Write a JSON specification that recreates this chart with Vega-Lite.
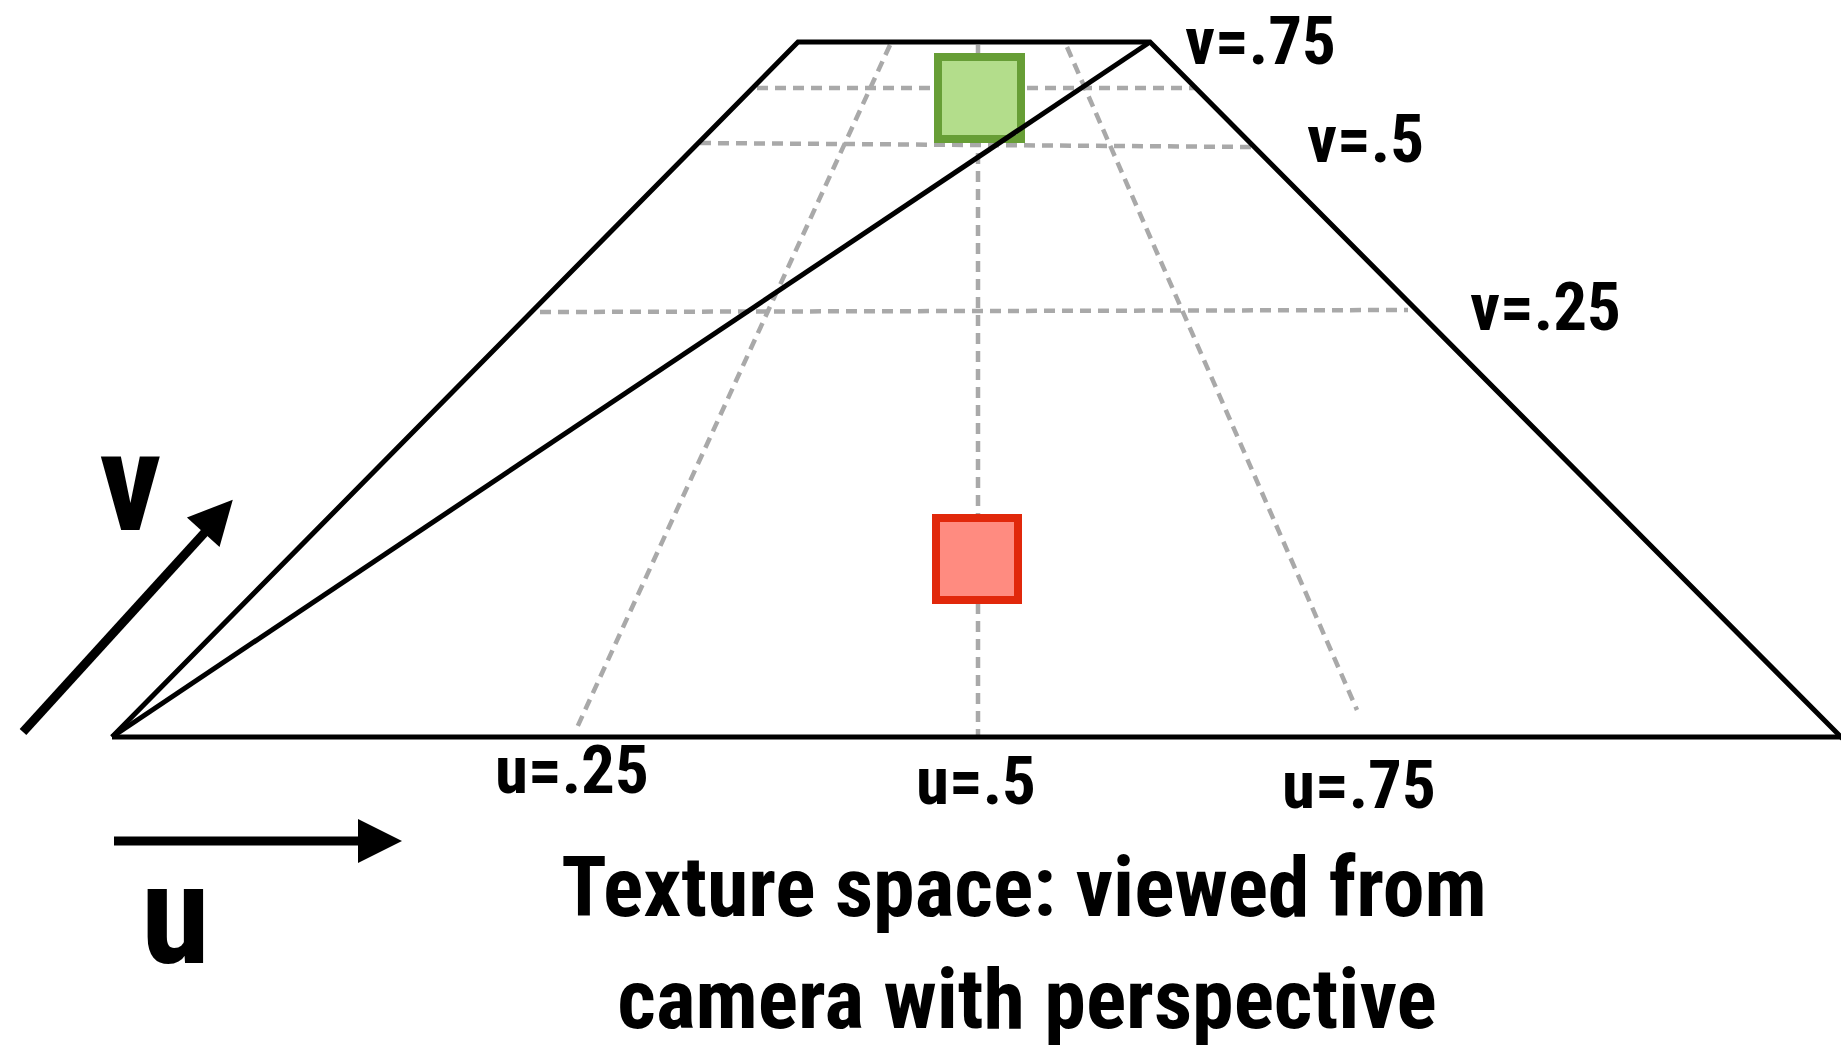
{
  "$schema": "https://vega.github.io/schema/vega-lite/v6.json",
  "width": 1841,
  "height": 1049,
  "autosize": "none",
  "padding": 0,
  "background": "white",
  "config": {"view": {"stroke": null}},
  "datasets": {
    "outline": [
      {"seg": "trap", "i": 0, "x": 112, "y": 737},
      {"seg": "trap", "i": 1, "x": 798, "y": 42},
      {"seg": "trap", "i": 2, "x": 1150, "y": 42},
      {"seg": "trap", "i": 3, "x": 1845, "y": 741},
      {"seg": "bottom", "i": 0, "x": 112, "y": 737},
      {"seg": "bottom", "i": 1, "x": 1845, "y": 737},
      {"seg": "diag", "i": 0, "x": 112, "y": 737},
      {"seg": "diag", "i": 1, "x": 1150, "y": 42}
    ],
    "dashed": [
      {"name": "v=.75", "x": 757, "y": 88, "x2": 1197, "y2": 88},
      {"name": "v=.5", "x": 700, "y": 143, "x2": 1256, "y2": 147},
      {"name": "v=.25", "x": 540, "y": 312, "x2": 1408, "y2": 310},
      {"name": "u=.25", "x": 890, "y": 45, "x2": 575, "y2": 732},
      {"name": "u=.5", "x": 978, "y": 45, "x2": 978, "y2": 737},
      {"name": "u=.75", "x": 1067, "y": 47, "x2": 1357, "y2": 710}
    ],
    "labels": [
      {"text": "v=.75", "x": 1185, "y": 64},
      {"text": "v=.5", "x": 1307, "y": 162},
      {"text": "v=.25", "x": 1470, "y": 330},
      {"text": "u=.25", "x": 495, "y": 793},
      {"text": "u=.5", "x": 916, "y": 804},
      {"text": "u=.75", "x": 1282, "y": 808}
    ],
    "axisletters": [
      {"text": "v", "x": 99, "y": 530},
      {"text": "u", "x": 141, "y": 963}
    ],
    "title": [
      {"text": "Texture space: viewed from", "x": 1024, "y": 916},
      {"text": "camera with perspective", "x": 1027, "y": 1028}
    ]
  },
  "layer": [
    {
      "data": {"name": "dashed"},
      "mark": {"type": "rule", "color": "#a9a9a9", "strokeWidth": 4.5, "strokeDash": [11, 7], "strokeCap": "butt"},
      "encoding": {
        "x": {"field": "x", "type": "quantitative", "scale": {"domain": [0, 1841], "nice": false, "zero": false}, "axis": null},
        "y": {"field": "y", "type": "quantitative", "scale": {"domain": [0, 1049], "nice": false, "zero": false, "reverse": true}, "axis": null},
        "x2": {"field": "x2"},
        "y2": {"field": "y2"}
      }
    },
    {
      "data": {"values": [{"x": 938, "x2": 1021, "y": 57, "y2": 139}]},
      "mark": {"type": "rect", "fill": "#b3dd8b", "stroke": "#679e36", "strokeWidth": 8, "opacity": 1},
      "encoding": {
        "x": {"field": "x", "type": "quantitative", "axis": null},
        "y": {"field": "y", "type": "quantitative", "axis": null},
        "x2": {"field": "x2"},
        "y2": {"field": "y2"}
      }
    },
    {
      "data": {"values": [{"x": 936, "x2": 1018, "y": 518, "y2": 600}]},
      "mark": {"type": "rect", "fill": "#ff8b80", "stroke": "#e1280b", "strokeWidth": 8, "opacity": 1},
      "encoding": {
        "x": {"field": "x", "type": "quantitative", "axis": null},
        "y": {"field": "y", "type": "quantitative", "axis": null},
        "x2": {"field": "x2"},
        "y2": {"field": "y2"}
      }
    },
    {
      "data": {"name": "outline"},
      "mark": {"type": "line", "color": "black", "strokeWidth": 5, "strokeJoin": "miter", "strokeCap": "butt"},
      "encoding": {
        "x": {"field": "x", "type": "quantitative", "axis": null},
        "y": {"field": "y", "type": "quantitative", "axis": null},
        "detail": {"field": "seg", "type": "nominal"},
        "order": {"field": "i", "type": "quantitative"}
      }
    },
    {
      "data": {"values": [{"arrow": "u", "x": 114, "y": 841, "x2": 362, "y2": 841}, {"arrow": "v", "x": 23, "y": 732, "x2": 207, "y2": 530}]},
      "mark": {"type": "rule", "color": "black", "strokeWidth": 9, "strokeCap": "butt"},
      "encoding": {
        "x": {"field": "x", "type": "quantitative", "axis": null},
        "y": {"field": "y", "type": "quantitative", "axis": null},
        "x2": {"field": "x2"},
        "y2": {"field": "y2"}
      }
    },
    {
      "data": {"values": [{"arrow": "u", "x": 380, "y": 841}]},
      "mark": {"type": "point", "shape": "M-1,-1L1,0L-1,1Z", "size": 1936, "filled": true, "color": "black", "opacity": 1, "strokeWidth": 0, "angle": 0},
      "encoding": {
        "x": {"field": "x", "type": "quantitative", "axis": null},
        "y": {"field": "y", "type": "quantitative", "axis": null}
      }
    },
    {
      "data": {"values": [{"arrow": "v", "x": 218, "y": 516}]},
      "mark": {"type": "point", "shape": "M-1,-1L1,0L-1,1Z", "size": 1936, "filled": true, "color": "black", "opacity": 1, "strokeWidth": 0, "angle": -47.8},
      "encoding": {
        "x": {"field": "x", "type": "quantitative", "axis": null},
        "y": {"field": "y", "type": "quantitative", "axis": null}
      }
    },
    {
      "data": {"name": "labels"},
      "mark": {"type": "text", "font": "Roboto Condensed, DejaVu Sans Condensed, sans-serif", "fontWeight": "bold", "fontSize": 67, "align": "left", "baseline": "alphabetic", "color": "black"},
      "encoding": {
        "x": {"field": "x", "type": "quantitative", "axis": null},
        "y": {"field": "y", "type": "quantitative", "axis": null},
        "text": {"field": "text"}
      }
    },
    {
      "data": {"name": "axisletters"},
      "mark": {"type": "text", "font": "Roboto Condensed, DejaVu Sans Condensed, sans-serif", "fontWeight": "bold", "fontSize": 140, "align": "left", "baseline": "alphabetic", "color": "black"},
      "encoding": {
        "x": {"field": "x", "type": "quantitative", "axis": null},
        "y": {"field": "y", "type": "quantitative", "axis": null},
        "text": {"field": "text"}
      }
    },
    {
      "data": {"name": "title"},
      "mark": {"type": "text", "font": "Roboto Condensed, DejaVu Sans Condensed, sans-serif", "fontWeight": "bold", "fontSize": 84, "align": "center", "baseline": "alphabetic", "color": "black"},
      "encoding": {
        "x": {"field": "x", "type": "quantitative", "axis": null},
        "y": {"field": "y", "type": "quantitative", "axis": null},
        "text": {"field": "text"}
      }
    }
  ]
}
